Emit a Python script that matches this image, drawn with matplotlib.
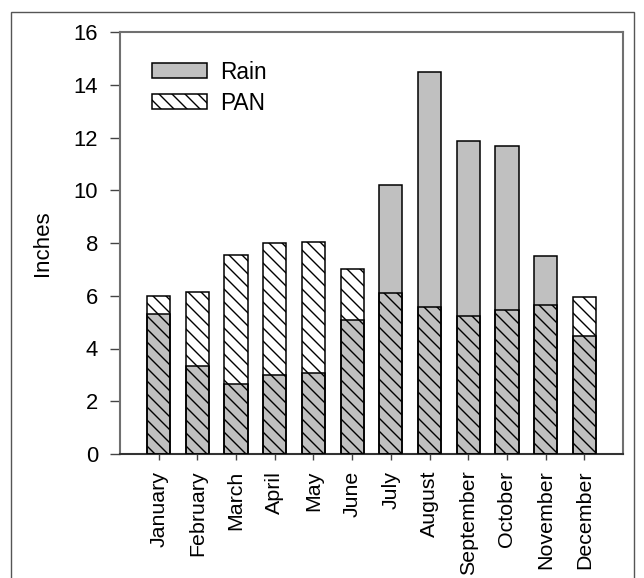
import matplotlib
matplotlib.use("Agg")
import matplotlib.pyplot as plt
from matplotlib.patches import Rectangle, Patch
import numpy as np

months = ["January", "February", "March", "April", "May", "June", "July",
          "August", "September", "October", "November", "December"]
rain = [5.29, 3.35, 2.64, 3.01, 3.06, 5.07, 10.21, 14.5, 11.85, 11.68, 7.52, 4.46]
pan = [5.98, 6.14, 7.53, 7.99, 8.03, 7.03, 6.10, 5.56, 5.22, 5.45, 5.65, 5.96]
yticks = [0, 2, 4, 6, 8, 10, 12, 14, 16]

# Render at a higher dpi so the hatch tile gives ~13 px spacing; sizes scaled back.
DPI = 156
S = 100.0 / DPI
HATCH = '\\' * 4

plt.rcParams['font.family'] = ['Liberation Sans', 'DejaVu Sans']
plt.rcParams['hatch.linewidth'] = 1.0 * S

fig = plt.figure(figsize=(644 / DPI, 578 / DPI), dpi=DPI)
ax = fig.add_axes([120/644, 1-454/578, (623-120)/644, (454-32)/578])

x = np.arange(len(months))
w = 0.6
ax.bar(x, rain, width=w, color='#c0c0c0', edgecolor='black', linewidth=1.1 * S, zorder=2)
ax.bar(x, pan, width=w, facecolor='none', edgecolor='black', linewidth=1.1 * S,
       hatch=HATCH, zorder=3)

ax.set_xlim(-1, 12)
ax.set_ylim(0, 16)
ax.set_yticks(yticks)
ax.set_xticks(x)
ax.set_xticklabels(months, rotation=90, fontsize=15.4 * S)
ax.tick_params(axis='y', labelsize=15.8 * S, length=7.2 * S, width=1.0 * S,
               pad=8.5 * S, color='#444444', direction='out')
ax.tick_params(axis='x', length=4 * S, width=1.0 * S, pad=8 * S,
               color='#444444', direction='out')
ax.set_ylabel("Inches", fontsize=16 * S, labelpad=15 * S)
for s in ax.spines.values():
    s.set_color('#707070')
    s.set_linewidth(1.5 * S)
ax.spines['bottom'].set_color('#333333')

handles = [Patch(facecolor='#c0c0c0', edgecolor='black', linewidth=1.1 * S, label='Rain'),
           Patch(facecolor='white', edgecolor='black', linewidth=1.1 * S, hatch=HATCH, label='PAN')]
ax.legend(handles=handles, loc='upper left', bbox_to_anchor=(0.064, 0.932), frameon=False,
          fontsize=16.3 * S, handlelength=2.4, handleheight=0.62, handletextpad=0.6,
          labelspacing=0.35, borderaxespad=0, borderpad=0)

fig.patches.append(Rectangle((11/644, -0.05), (634-11)/644, 1.05-12/578,
                             transform=fig.transFigure, fill=False,
                             edgecolor='#555555', linewidth=1.0 * S))

fig.savefig("out.png", dpi=DPI)
